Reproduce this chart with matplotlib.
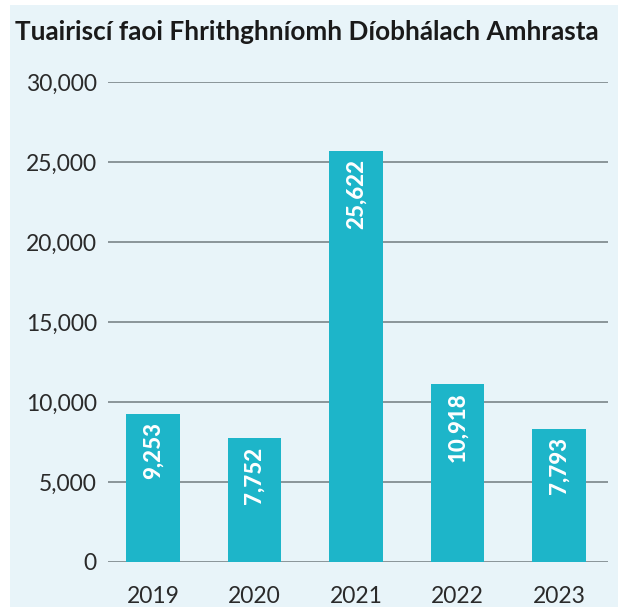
import matplotlib
matplotlib.use('Agg')
import matplotlib.pyplot as plt

# data
years = ['2019', '2020', '2021', '2022', '2023']
# bar heights as drawn in the source picture
bar_heights = [9250, 7750, 25690, 11125, 8310]
# printed values on the bars
bar_labels = ['9,253', '7,752', '25,622', '10,918', '7,793']
yticks = [0, 5000, 10000, 15000, 20000, 25000, 30000]
title = 'Tuairiscí faoi Fhrithghníomh Díobhálach Amhrasta'

plt.rcParams['font.family'] = ['Lato', 'DejaVu Sans']

W, H = 618, 607
fig = plt.figure(figsize=(W / 100, H / 100), dpi=100)
fig.patch.set_facecolor('white')

# light blue panel behind everything
bg = fig.add_axes([10 / W, 0, 1 - 10 / W, 1 - 5 / H], zorder=0)
bg.set_facecolor('#e8f4f9')
bg.set_xticks([])
bg.set_yticks([])
for s in bg.spines.values():
    s.set_visible(False)

ax = fig.add_axes([108 / W, (H - 562) / H, 500 / W, 480 / H], zorder=1)
ax.set_facecolor('none')

x = list(range(len(years)))
ax.bar(x, bar_heights, width=0.53, color='#1db5c9', zorder=3)

for i, (h, lab) in enumerate(zip(bar_heights, bar_labels)):
    ax.annotate(lab, (i, h), xytext=(0, -6), textcoords='offset points',
                rotation=90, ha='center', va='top', color='white',
                fontsize=16, fontweight='black', zorder=4)

ax.set_xlim(-0.443, 4.483)
ax.set_ylim(0, 30000)
ax.set_yticks(yticks)
ax.set_yticklabels([f'{t:,}' for t in yticks])
ax.set_xticks(x)
ax.set_xticklabels(years)
ax.yaxis.grid(True, color='#8a9599', linewidth=1.4, zorder=1)
ax.set_axisbelow(True)
for s in ax.spines.values():
    s.set_visible(False)
ax.tick_params(axis='both', length=0, labelsize=16.5, colors='#2a2a2a')
ax.tick_params(axis='y', pad=8)
ax.tick_params(axis='x', pad=17)

fig.text(15 / W, 1 - 40 / H, title, fontsize=18.8, fontweight='bold',
         color='#1a1a1a', va='baseline', ha='left')

fig.savefig('out.png', dpi=100)
